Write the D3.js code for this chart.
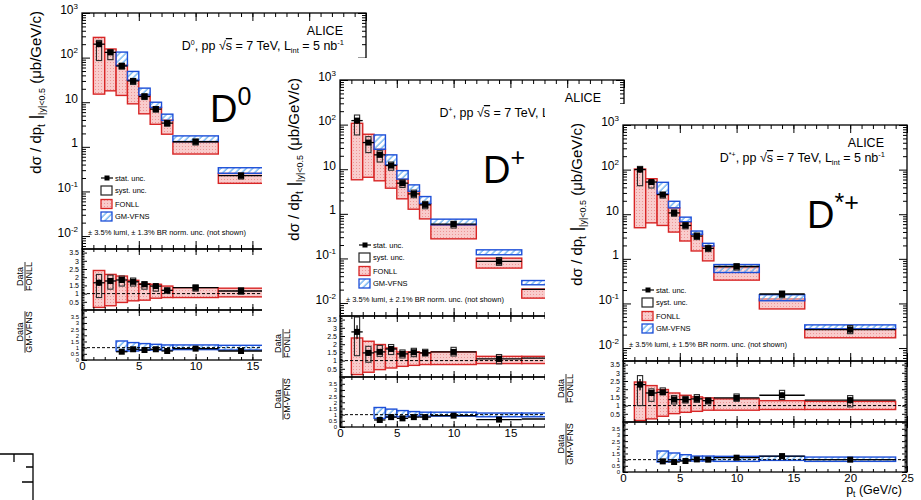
<!DOCTYPE html>
<html>
<head>
<meta charset="utf-8">
<script src="https://cdn.jsdelivr.net/npm/d3@7"></script>
<style>body{margin:0;background:#fff;}</style>
</head>
<body>
<div id="viz-container"></div>
<script>
let svgWidth = 921;
let svgHeight = 500;
let fontFam = "Liberation Sans, Arial, Helvetica, sans-serif";

let frameW = 284;
let mainH = 236;
let r1H = 61;
let r2H = 50;

// pt bins (GeV/c)
let binLoD0 = [1, 2, 3, 4, 5, 6, 7, 8, 12];
let binHiD0 = [2, 3, 4, 5, 6, 7, 8, 12, 16];
let binLo = [1, 2, 3, 4, 5, 6, 7, 8, 12, 16];
let binHi = [2, 3, 4, 5, 6, 7, 8, 12, 16, 24];

// ---- D0 ----
let d0Val = [200, 131, 65, 30, 13.4, 7.0, 3.4, 1.3, 0.226];
let d0Stat = [0.12, 0.08, 0.07, 0.07, 0.07, 0.07, 0.08, 0.08, 0.12];
let d0SystLo = [86, 90, 55, 25, 11.5, 6.0, 2.9, 1.1, 0.19];
let d0SystHi = [243, 150, 75, 34, 15.5, 8.0, 3.9, 1.5, 0.26];
let d0FonllLo = [15.2, 18, 14.2, 9.2, 5.5, 3.2, 1.92, 0.69, 0.152];
let d0FonllHi = [284, 156, 69, 31.8, 14.7, 7.7, 4.0, 1.31, 0.255];
let d0GmLo = [null, null, 66, 31, 14.5, 7.6, 3.9, 1.31, 0.255];
let d0GmHi = [null, null, 133, 49, 20.7, 10, 5.4, 1.76, 0.34];
let d0R1 = [1.66, 1.77, 1.83, 1.72, 1.57, 1.46, 1.2, 1.36, 1.16];
let d0R1SystLo = [0.76, 1.27, 1.46, 1.46, 1.27, 1.15, 1.03, 1.15, 0.96];
let d0R1SystHi = [2.17, 2.13, 2.07, 1.95, 1.72, 1.51, 1.33, 1.53, 1.36];
let d0R1FonllLo = [0.16, 0.26, 0.46, 0.56, 0.6, 0.72, 0.76, 0.76, 0.8];
let d0R1FonllHi = [2.41, 2.17, 2.07, 1.81, 1.6, 1.57, 1.46, 1.36, 1.33];
let d0R2 = [null, null, 0.67, 0.87, 0.81, 0.87, 0.73, 0.92, 0.73];
let d0R2GmLo = [null, null, 0.73, 0.73, 0.79, 0.81, 0.79, 0.84, 0.81];
let d0R2GmHi = [null, null, 1.54, 1.41, 1.33, 1.27, 1.22, 1.22, 1.19];

// ---- D+ ----
let dpVal = [123, 39.6, 21, 12.1, 4.87, 2.8, 1.59, 0.587, 0.0857, 0.0203];
let dpStat = [0.15, 0.12, 0.08, 0.07, 0.07, 0.07, 0.08, 0.08, 0.15, 0.2];
let dpSystLo = [58.7, 23.6, 14.5, 9.5, 3.9, 2.3, 1.3, 0.48, 0.07, 0.016];
let dpSystHi = [164, 53.8, 26, 14.5, 5.8, 3.4, 1.9, 0.68, 0.105, 0.026];
let dpFonllLo = [5.8, 6.6, 5.5, 3.76, 2.17, 1.27, 0.77, 0.275, 0.0608, 0.0129];
let dpFonllHi = [107, 60.8, 28, 12.5, 5.97, 3.16, 1.67, 0.567, 0.1016, 0.0206];
let dpGmLo = [null, null, 28, 12.5, 6.0, 3.2, 1.7, 0.567, 0.121, 0.0257];
let dpGmHi = [null, null, 58.7, 21, 9.3, 4.46, 2.44, 0.76, 0.156, 0.032];
let dpR1 = [2.75, 1.47, 1.53, 1.71, 1.41, 1.51, 1.47, 1.53, 1.1, 1.15];
let dpR1SystLo = [1.3, 0.9, 1.26, 1.37, 1.16, 1.24, 1.28, 1.28, 0.8, 0.9];
let dpR1SystHi = [3.66, 1.87, 1.93, 1.98, 1.65, 1.75, 1.69, 1.81, 1.37, 1.4];
let dpR1FonllLo = [0.15, 0.29, 0.45, 0.55, 0.65, 0.71, 0.76, 0.76, 0.82, 0.82];
let dpR1FonllHi = [2.38, 2.18, 1.98, 1.77, 1.53, 1.53, 1.47, 1.53, 1.26, 1.26];
let dpR2 = [null, null, 0.57, 0.8, 0.7, 0.8, 0.8, 0.92, 0.6, 0.65];
let dpR2GmLo = [null, null, 0.7, 0.83, 0.83, 0.88, 0.88, 0.88, 0.83, 0.83];
let dpR2GmHi = [null, null, 1.58, 1.45, 1.33, 1.25, 1.2, 1.2, 1.13, 1.13];

// ---- D*+ ----
let dsVal = [100, 52.7, 27.5, 10.7, 5.6, 3.24, 1.72, 0.673, 0.163, 0.026];
let dsStat = [0.15, 0.1, 0.07, 0.07, 0.07, 0.07, 0.08, 0.08, 0.1, 0.15];
let dsSystLo = [43.6, 38.7, 23, 9, 4.7, 2.7, 1.45, 0.56, 0.135, 0.021];
let dsSystHi = [118, 56.5, 31, 12.5, 6.5, 3.8, 2.0, 0.78, 0.19, 0.032];
let dsFonllLo = [4.98, 6.4, 5.6, 3.98, 2.51, 1.5, 0.9, 0.333, 0.0753, 0.017];
let dsFonllHi = [103, 62.5, 28.5, 13.9, 6.8, 3.54, 1.94, 0.638, 0.126, 0.027];
let dsGmLo = [null, null, 28.5, 13.9, 6.8, 3.54, 1.94, 0.494, 0.115, 0.027];
let dsGmHi = [null, null, 51.9, 19.5, 8.6, 4.2, 2.23, 0.745, 0.157, 0.0331];
let dsR1 = [2.28, 1.77, 1.81, 1.37, 1.37, 1.41, 1.3, 1.47, 1.63, 1.33];
let dsR1SystLo = [1.0, 1.26, 1.67, 1.1, 1.16, 1.2, 1.1, 1.26, 1.37, 0.92];
let dsR1SystHi = [2.83, 2.02, 2.08, 1.61, 1.57, 1.67, 1.47, 1.71, 1.93, 1.61];
let dsR1FonllLo = [0.09, 0.19, 0.35, 0.51, 0.59, 0.65, 0.72, 0.72, 0.76, 0.76];
let dsR1FonllHi = [2.44, 2.22, 1.98, 1.77, 1.63, 1.53, 1.47, 1.41, 1.3, 1.26];
let dsR2 = [null, null, 0.86, 0.81, 0.89, 1.02, 1.0, 1.16, 1.29, 1.0];
let dsR2GmLo = [null, null, 0.81, 0.89, 0.94, 0.89, 0.89, 0.86, 0.94, 0.86];
let dsR2GmHi = [null, null, 1.7, 1.54, 1.4, 1.29, 1.29, 1.27, 1.27, 1.21];

// tick values
let mainMajor = [1000, 100, 10, 1, 0.1, 0.01];
let mainLabels = [["10", "3"], ["10", "2"], ["10", ""], ["1", ""], ["10", "-1"], ["10", "-2"]];
let xMajor = [0, 5, 10, 15, 20, 25];
let ratioMajor = [0, 0.5, 1, 1.5, 2, 2.5, 3, 3.5, 4];
let ratioLabels = ["0", "0.5", "1", "1.5", "2", "2.5", "3", "3.5", ""];

let red = "#d82626";
let blue = "#1d4fd8";

let viz = d3.select("#viz-container")
  .append("svg")
    .attr("width", svgWidth)
    .attr("height", svgHeight)
    .attr("font-family", fontFam)
    .style("background-color", "white")
    ;

let defs = viz.append("defs");
let hatch = defs.append("pattern")
    .attr("id", "blueHatch")
    .attr("patternUnits", "userSpaceOnUse")
    .attr("width", 4.5)
    .attr("height", 4.5)
    .attr("patternTransform", "rotate(45)")
    ;
hatch.append("rect").attr("width", 4.5).attr("height", 4.5).attr("fill", "white").attr("fill-opacity", 0.35);
hatch.append("line")
    .attr("x1", 1).attr("y1", 0).attr("x2", 1).attr("y2", 4.5)
    .attr("stroke", "#4a9fec").attr("stroke-width", 1.1)
    ;
let dots = defs.append("pattern")
    .attr("id", "pinkDots")
    .attr("patternUnits", "userSpaceOnUse")
    .attr("width", 3)
    .attr("height", 3)
    ;
dots.append("rect").attr("width", 3).attr("height", 3).attr("fill", "#f9cccc");
dots.append("rect").attr("x", 1).attr("y", 1).attr("width", 1).attr("height", 1).attr("fill", "#ec9696");

// little fragment of another frame in the lower-left corner
viz.append("path")
    .attr("d", "M0,454 H33 V500 M14,454 V462 M26,467 H33 M22,482 H33")
    .attr("fill", "none")
    .attr("stroke", "black")
    .attr("stroke-width", 1.3)
    ;

function makeRows(lo, hi, a) {
  return lo.map((l, i) => ({
    lo: l, hi: hi[i], val: a.val[i], stat: a.stat[i],
    sLo: a.sLo[i], sHi: a.sHi[i], fLo: a.fLo[i], fHi: a.fHi[i],
    gLo: a.gLo[i], gHi: a.gHi[i],
    r1: a.r1[i], r1sLo: a.r1sLo[i], r1sHi: a.r1sHi[i], r1fLo: a.r1fLo[i], r1fHi: a.r1fHi[i],
    r2: a.r2[i], r2gLo: a.r2gLo[i], r2gHi: a.r2gHi[i]
  }));
}

// xLab: last x label that is not hidden under the next figure
let panels = [
  {id: "d0", x0: 82, y0: 13, cover: null, xLab: 15,
   rows: makeRows(binLoD0, binHiD0, {val: d0Val, stat: d0Stat, sLo: d0SystLo, sHi: d0SystHi, fLo: d0FonllLo, fHi: d0FonllHi,
     gLo: d0GmLo, gHi: d0GmHi, r1: d0R1, r1sLo: d0R1SystLo, r1sHi: d0R1SystHi, r1fLo: d0R1FonllLo, r1fHi: d0R1FonllHi,
     r2: d0R2, r2gLo: d0R2GmLo, r2gHi: d0R2GmHi}),
   sup: "0", big: [["D"], ["0", -17, 25]], bigX: 128, bigY: 109, br: "1.3"},
  {id: "dp", x0: 340, y0: 80, cover: [262, 58], xLab: 15,
   rows: makeRows(binLo, binHi, {val: dpVal, stat: dpStat, sLo: dpSystLo, sHi: dpSystHi, fLo: dpFonllLo, fHi: dpFonllHi,
     gLo: dpGmLo, gHi: dpGmHi, r1: dpR1, r1sLo: dpR1SystLo, r1sHi: dpR1SystHi, r1fLo: dpR1FonllLo, r1fHi: dpR1FonllHi,
     r2: dpR2, r2gLo: dpR2GmLo, r2gHi: dpR2GmHi}),
   sup: "+", big: [["D"], ["+", -17, 25]], bigX: 143, bigY: 103, br: "2.1"},
  {id: "ds", x0: 623, y0: 125, cover: [545, 104], xLab: 25,
   rows: makeRows(binLo, binHi, {val: dsVal, stat: dsStat, sLo: dsSystLo, sHi: dsSystHi, fLo: dsFonllLo, fHi: dsFonllHi,
     gLo: dsGmLo, gHi: dsGmHi, r1: dsR1, r1sLo: dsR1SystLo, r1sHi: dsR1SystHi, r1fLo: dsR1FonllLo, r1fHi: dsR1FonllHi,
     r2: dsR2, r2gLo: dsR2GmLo, r2gHi: dsR2GmHi}),
   sup: "*+", big: [["D"], ["*+", -17, 25]], bigX: 184, bigY: 103, br: "1.5", xTitle: true}
];

function addRich(textSel, parts) {
  let cur = 0;
  parts.forEach(p => {
    let shift = p[1] || 0;
    let t = textSel.append("tspan").text(p[0]).attr("dy", shift - cur);
    if (p[2]) t.attr("font-size", p[2]);
    if (p[3]) t.attr("text-decoration", p[3]);
    cur = shift;
  });
}

function putAxis(g, axis, tr) {
  let a = g.append("g").attr("transform", tr).call(axis);
  a.select(".domain").remove();
  a.attr("font-family", fontFam).attr("font-size", null);
  a.selectAll("line").attr("stroke", "black").attr("stroke-width", 1);
  a.selectAll("text").attr("fill", "black");
  return a;
}

function minorLog(domain) {
  let out = [];
  for (let d = -3; d <= 3; d++) {
    for (let m = 2; m <= 9; m++) {
      let v = m * Math.pow(10, d);
      if (v > domain[0] && v < domain[1]) out.push(v);
    }
  }
  return out;
}

function minorLin(lo, hi, step, major) {
  let out = [];
  for (let v = lo; v <= hi + 1e-9; v += step) {
    let r = Math.round(v * 100) / 100;
    if (major.indexOf(r) < 0) out.push(r);
  }
  return out;
}

function drawPanel(p) {
  if (p.cover) {
    viz.append("rect")
        .attr("x", p.cover[0]).attr("y", p.cover[1])
        .attr("width", svgWidth - p.cover[0]).attr("height", svgHeight - p.cover[1])
        .attr("fill", "white")
        ;
  }
  let g = viz.append("g").attr("transform", "translate(" + p.x0 + "," + p.y0 + ")");

  let x = d3.scaleLinear().domain([0, 25]).range([0, frameW]);
  let yDom = [Math.pow(10, -2.29), 1000];
  let y = d3.scaleLog().domain(yDom).range([mainH, 0]);
  let yr1 = d3.scaleLinear().domain([0, 3.72]).range([mainH + r1H, mainH]);
  let yr2 = d3.scaleLinear().domain([0, 4.05]).range([mainH + r1H + r2H, mainH + r1H]);

  let pads = [[0, mainH], [mainH, r1H], [mainH + r1H, r2H]];
  pads.forEach((pd, k) => {
    defs.append("clipPath").attr("id", "clip-" + p.id + k)
      .append("rect").attr("x", 0).attr("y", pd[0]).attr("width", frameW).attr("height", pd[1]);
  });

  // ---- main pad ----
  let m = g.append("g").attr("clip-path", "url(#clip-" + p.id + "0)");
  m.selectAll(".fonll").data(p.rows).enter()
    .append("rect")
      .attr("x", d => x(d.lo))
      .attr("y", d => y(d.fHi))
      .attr("width", d => x(d.hi) - x(d.lo))
      .attr("height", d => y(d.fLo) - y(d.fHi))
      .attr("fill", "url(#pinkDots)")
      .attr("stroke", red)
      .attr("stroke-width", 1.4)
      ;
  m.selectAll(".gm").data(p.rows.filter(d => d.gHi != null)).enter()
    .append("rect")
      .attr("x", d => x(d.lo))
      .attr("y", d => y(d.gHi))
      .attr("width", d => x(d.hi) - x(d.lo))
      .attr("height", d => y(d.gLo) - y(d.gHi))
      .attr("fill", "url(#blueHatch)")
      .attr("stroke", blue)
      .attr("stroke-width", 1.4)
      ;
  drawPoints(m, p.rows, x, y, "val", "sLo", "sHi");

  // ---- ratio pad 1 : data / FONLL ----
  let r1 = g.append("g").attr("clip-path", "url(#clip-" + p.id + "1)");
  r1.selectAll(".fonllR").data(p.rows).enter()
    .append("rect")
      .attr("x", d => x(d.lo))
      .attr("y", d => yr1(d.r1fHi))
      .attr("width", d => x(d.hi) - x(d.lo))
      .attr("height", d => yr1(d.r1fLo) - yr1(d.r1fHi))
      .attr("fill", "url(#pinkDots)")
      .attr("stroke", red)
      .attr("stroke-width", 1.4)
      ;
  r1.append("line")
      .attr("x1", 0).attr("x2", frameW)
      .attr("y1", yr1(1)).attr("y2", yr1(1))
      .attr("stroke", "black").attr("stroke-dasharray", "3,2")
      ;
  drawPoints(r1, p.rows, x, yr1, "r1", "r1sLo", "r1sHi");

  // ---- ratio pad 2 : data / GM-VFNS ----
  let r2 = g.append("g").attr("clip-path", "url(#clip-" + p.id + "2)");
  let gmRows = p.rows.filter(d => d.r2 != null);
  r2.selectAll(".gmR").data(gmRows).enter()
    .append("rect")
      .attr("x", d => x(d.lo))
      .attr("y", d => yr2(d.r2gHi))
      .attr("width", d => x(d.hi) - x(d.lo))
      .attr("height", d => yr2(d.r2gLo) - yr2(d.r2gHi))
      .attr("fill", "url(#blueHatch)")
      .attr("stroke", blue)
      .attr("stroke-width", 1.4)
      ;
  r2.append("line")
      .attr("x1", 0).attr("x2", frameW)
      .attr("y1", yr2(1)).attr("y2", yr2(1))
      .attr("stroke", "black").attr("stroke-dasharray", "3,2")
      ;
  drawPoints(r2, gmRows, x, yr2, "r2", null, null);

  // ---- frames and ticks ----
  pads.forEach(pd => {
    g.append("rect")
        .attr("x", 0).attr("y", pd[0]).attr("width", frameW).attr("height", pd[1])
        .attr("fill", "none").attr("stroke", "black").attr("stroke-width", 1.3)
        ;
    let big = pd[1] > 100 ? 8 : 6;
    putAxis(g, d3.axisTop(x).tickValues(xMajor).tickSize(-big).tickFormat(""), "translate(0," + pd[0] + ")");
    putAxis(g, d3.axisTop(x).tickValues(d3.range(0, 26)).tickSize(-big / 2).tickFormat(""), "translate(0," + pd[0] + ")");
    putAxis(g, d3.axisBottom(x).tickValues(xMajor).tickSize(-big).tickFormat(""), "translate(0," + (pd[0] + pd[1]) + ")");
    putAxis(g, d3.axisBottom(x).tickValues(d3.range(0, 26)).tickSize(-big / 2).tickFormat(""), "translate(0," + (pd[0] + pd[1]) + ")");
  });

  // main y axis (log)
  let yl = putAxis(g, d3.axisLeft(y).tickValues(mainMajor).tickSize(-8).tickPadding(4).tickFormat(""), "translate(0,0)");
  yl.selectAll("text")
      .attr("font-size", 12)
      .each(function(d, i) {
        let lab = mainLabels[i];
        addRich(d3.select(this), [[lab[0]], [lab[1], -5, 8]]);
      });
  putAxis(g, d3.axisLeft(y).tickValues(minorLog(yDom)).tickSize(-4).tickFormat(""), "translate(0,0)");
  putAxis(g, d3.axisRight(y).tickValues(mainMajor).tickSize(-8).tickFormat(""), "translate(" + frameW + ",0)");
  putAxis(g, d3.axisRight(y).tickValues(minorLog(yDom)).tickSize(-4).tickFormat(""), "translate(" + frameW + ",0)");

  // ratio y axes
  [[yr1, 3.72, false], [yr2, 4.05, true]].forEach(ax => {
    let sc = ax[0];
    let majors = ratioMajor.filter(v => v <= ax[1] && (ax[2] || v > 0));
    let ya = putAxis(g, d3.axisLeft(sc).tickValues(majors).tickSize(-5).tickPadding(3)
        .tickFormat(v => ratioLabels[ratioMajor.indexOf(v)]), "translate(0,0)");
    ya.selectAll("text").attr("font-size", ax[2] ? 6 : 7);
    let minors = minorLin(0, ax[1], 0.1, ratioMajor);
    putAxis(g, d3.axisLeft(sc).tickValues(minors).tickSize(-2.5).tickFormat(""), "translate(0,0)");
    putAxis(g, d3.axisRight(sc).tickValues(majors).tickSize(-5).tickFormat(""), "translate(" + frameW + ",0)");
    putAxis(g, d3.axisRight(sc).tickValues(minors).tickSize(-2.5).tickFormat(""), "translate(" + frameW + ",0)");
  });

  // x labels under the last pad
  let xb = putAxis(g, d3.axisBottom(x).tickValues(xMajor.filter(v => v <= p.xLab)).tickSize(0).tickPadding(2),
      "translate(0," + (mainH + r1H + r2H) + ")");
  xb.selectAll("text").attr("font-size", 11.5);
  if (p.xTitle) {
    let xt = g.append("text")
        .attr("x", frameW - 5).attr("y", mainH + r1H + r2H + 22)
        .attr("text-anchor", "end").attr("font-size", 12.5)
        ;
    addRich(xt, [["p"], ["t", 3, 8.5], [" (GeV/c)"]]);
  }

  // y titles
  let yt = g.append("text")
      .attr("transform", "translate(-41,-2) rotate(-90)")
      .attr("text-anchor", "end")
      .attr("font-size", 15)
      ;
  addRich(yt, [["dσ / dp"], ["t", 4, 10], [" |", 0, 17], ["|y|<0.5", 4, 9], ["    (μb/GeV/c)", 0]]);

  [["FONLL", mainH + r1H / 2 - 3], ["GM-VFNS", mainH + r1H + r2H / 2 - 3]].forEach(t => {
    let fr = g.append("g").attr("transform", "translate(-57," + t[1] + ") rotate(-90)");
    fr.append("text").attr("x", 0).attr("y", -2).attr("text-anchor", "middle").attr("font-size", 9).text("Data");
    let den = fr.append("text").attr("x", 0).attr("y", 7).attr("text-anchor", "middle").attr("font-size", 9).text(t[0]);
    let w = den.node().getComputedTextLength();
    fr.append("line").attr("x1", -w / 2).attr("x2", w / 2).attr("y1", 0).attr("y2", 0)
      .attr("stroke", "black").attr("stroke-width", 0.8);
  });

  // header texts
  g.append("text")
      .attr("x", 261).attr("y", 22)
      .attr("text-anchor", "end").attr("font-size", 12.5)
      .text("ALICE");
  let tl = g.append("text")
      .attr("x", 262).attr("y", 37)
      .attr("text-anchor", "end").attr("font-size", 12.5)
      ;
  addRich(tl, [["D"], [p.sup, -5, 7], [", pp √"], ["s", 0, null, "overline"], [" = 7 TeV, L"], ["int", 3, 7.5], [" = 5 nb"], ["-1", -5, 7.5]]);

  let bl = g.append("text")
      .attr("x", p.bigX).attr("y", p.bigY)
      .attr("font-size", 38)
      ;
  addRich(bl, p.big);

  // legend
  let lg = g.append("g").attr("font-size", 7.5);
  let rowsY = [165, 177.5, 191, 203.5];
  lg.append("line").attr("x1", 19).attr("x2", 31).attr("y1", rowsY[0]).attr("y2", rowsY[0]).attr("stroke", "black").attr("stroke-width", 1.2);
  lg.append("rect").attr("x", 22.5).attr("y", rowsY[0] - 2.5).attr("width", 5).attr("height", 5).attr("fill", "black");
  lg.append("rect").attr("x", 19).attr("y", rowsY[1] - 4.5).attr("width", 11).attr("height", 9).attr("fill", "none").attr("stroke", "#222").attr("stroke-width", 1.2);
  lg.append("rect").attr("x", 19).attr("y", rowsY[2] - 4.5).attr("width", 11).attr("height", 9).attr("fill", "url(#pinkDots)").attr("stroke", red).attr("stroke-width", 1.3);
  lg.append("rect").attr("x", 19).attr("y", rowsY[3] - 4.5).attr("width", 11).attr("height", 9).attr("fill", "url(#blueHatch)").attr("stroke", blue).attr("stroke-width", 1.3);
  ["stat. unc.", "syst. unc.", "FONLL", "GM-VFNS"].forEach((t, i) => {
    lg.append("text").attr("x", 33).attr("y", rowsY[i] + 2.7).text(t);
  });
  lg.append("text").attr("x", 6).attr("y", 221.5)
    .text("± 3.5% lumi, ± " + p.br + "% BR norm. unc. (not shown)");
}

function drawPoints(sel, rows, x, y, key, loKey, hiKey) {
  let pts = rows.filter(d => d[key] != null);
  if (loKey) {
    sel.selectAll(".syst").data(pts).enter()
      .append("rect")
        .attr("x", d => x((d.lo + d.hi) / 2) - 2.6)
        .attr("y", d => y(d[hiKey]))
        .attr("width", 5.2)
        .attr("height", d => y(d[loKey]) - y(d[hiKey]))
        .attr("fill", "none")
        .attr("stroke", "#2a2a2a")
        .attr("stroke-width", 1.1)
        ;
  }
  sel.selectAll(".xbar").data(pts).enter()
    .append("line")
      .attr("x1", d => x(d.lo))
      .attr("x2", d => x(d.hi))
      .attr("y1", d => y(d[key]))
      .attr("y2", d => y(d[key]))
      .attr("stroke", "black")
      .attr("stroke-width", 1.3)
      ;
  sel.selectAll(".ybar").data(pts).enter()
    .append("line")
      .attr("x1", d => x((d.lo + d.hi) / 2))
      .attr("x2", d => x((d.lo + d.hi) / 2))
      .attr("y1", d => y(d[key] * (1 + d.stat)))
      .attr("y2", d => y(d[key] * (1 - d.stat)))
      .attr("stroke", "black")
      .attr("stroke-width", 1.3)
      ;
  sel.selectAll(".mk").data(pts).enter()
    .append("rect")
      .attr("x", d => x((d.lo + d.hi) / 2) - 3)
      .attr("y", d => y(d[key]) - 3)
      .attr("width", 6)
      .attr("height", 6)
      .attr("fill", "black")
      ;
}

panels.forEach(drawPanel);
</script>
</body>
</html>
